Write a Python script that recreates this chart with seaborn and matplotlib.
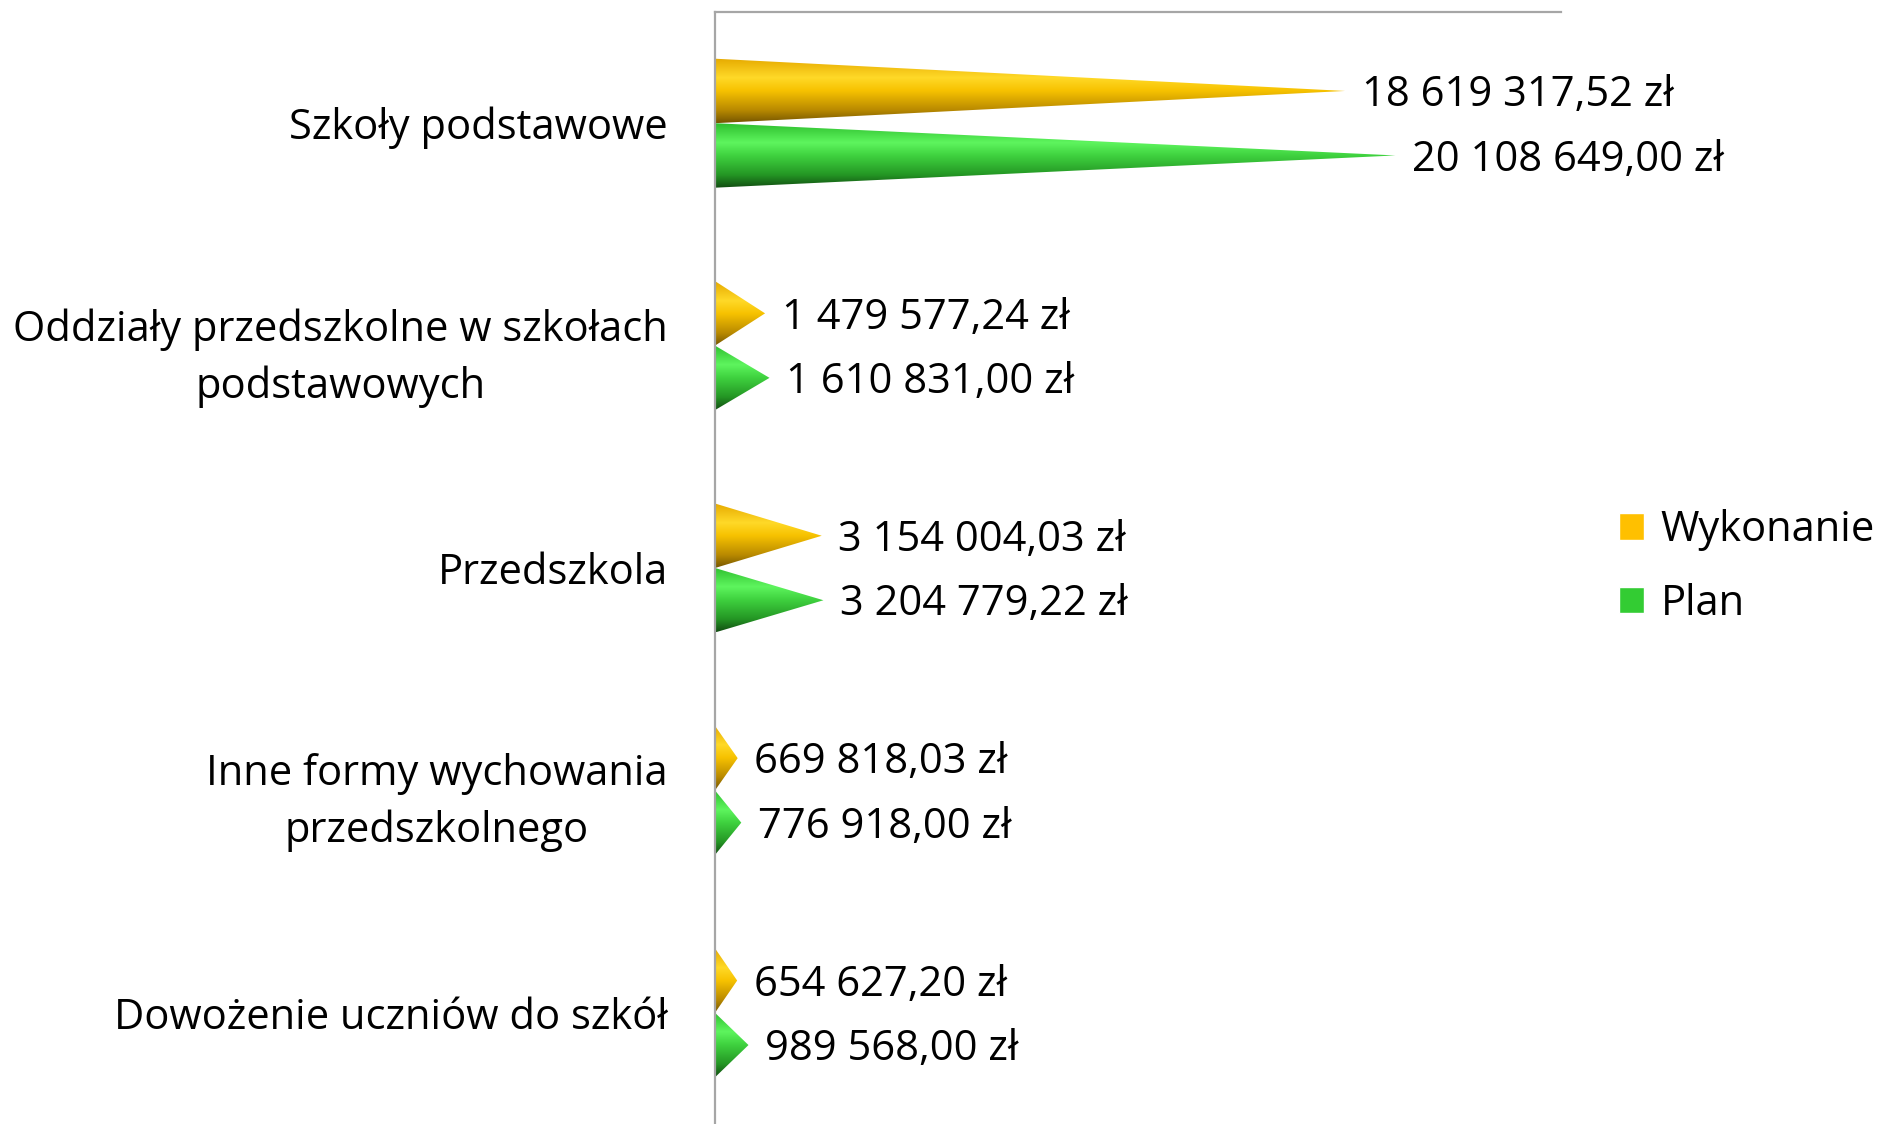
import matplotlib
matplotlib.use('Agg')
import matplotlib.pyplot as plt
import seaborn as sns
import numpy as np
import pandas as pd
from matplotlib.colors import LinearSegmentedColormap
from matplotlib.patches import Polygon

categories = ['Szkoły podstawowe',
              'Oddziały przedszkolne w szkołach\npodstawowych',
              'Przedszkola',
              'Inne formy wychowania\nprzedszkolnego',
              'Dowożenie uczniów do szkół']
wykonanie = [18619317.52, 1479577.24, 3154004.03, 669818.03, 654627.20]
plan = [20108649.00, 1610831.00, 3204779.22, 776918.00, 989568.00]
series = ['Wykonanie', 'Plan']
colors = ['#FFC000', '#33CC33']

df = pd.DataFrame({
    'kategoria': categories * 2,
    'kwota': wykonanie + plan,
    'seria': [series[0]] * len(categories) + [series[1]] * len(categories),
})

sns.set_theme(style='white')
plt.rcParams['font.family'] = ['Open Sans', 'DejaVu Sans']
plt.rcParams['text.color'] = 'black'
plt.rcParams['ytick.color'] = 'black'
fs = 30

fig = plt.figure(figsize=(18.83, 11.24), dpi=100)
ax = fig.add_axes([715 / 1883, 0.0, (1561 - 715) / 1883, 1 - 12 / 1124])

sns.barplot(data=df, y='kategoria', x='kwota', hue='seria', orient='h',
            palette=colors, saturation=1, width=0.58, ax=ax, errorbar=None)

# gradients for the cone shading (top -> bottom of each bar)
cone_maps = [
    LinearSegmentedColormap.from_list('y', [(0, '#e6aa00'), (0.3, '#ffd928'), (0.5, '#f7c200'),
                                            (0.8, '#b98a00'), (1, '#765600')]),
    LinearSegmentedColormap.from_list('g', [(0, '#2fbf2f'), (0.3, '#5ef55e'), (0.5, '#3fd23f'),
                                            (0.8, '#249624'), (1, '#124d12')]),
]
grad = np.linspace(0, 1, 200).reshape(-1, 1)

xmax = 25e6
for cont, cmap in zip(ax.containers, cone_maps):
    for bar in cont:
        bar.set_visible(False)
        w = bar.get_width()
        y0 = bar.get_y()
        h = bar.get_height()
        tri = Polygon([(0, y0), (0, y0 + h), (w, y0 + h / 2)], closed=True,
                      transform=ax.transData, facecolor='none', edgecolor='none')
        ax.add_patch(tri)
        im = ax.imshow(grad, cmap=cmap, aspect='auto', origin='upper',
                       extent=(0, w, y0 + h, y0), interpolation='bilinear', zorder=2)
        im.set_clip_path(tri)
        txt = f'{w:,.2f}'.replace(',', ' ').replace('.', ',') + ' zł'
        ax.annotate(txt, (w, y0 + h / 2), xytext=(12, -3), textcoords='offset points',
                    ha='left', va='center', fontsize=fs, color='black')

ax.set_xlim(0, xmax)
ax.set_ylim(len(categories) - 0.5, -0.5)
ax.set_xticks([])
ax.set_xlabel('')
ax.set_ylabel('')
ax.tick_params(axis='y', length=0, pad=34, labelsize=fs, labelcolor='black')
for lab in ax.get_yticklabels():
    lab.set_multialignment('center')
    lab.set_linespacing(1.45)

for s in ['right', 'bottom']:
    ax.spines[s].set_visible(False)
for s in ['left', 'top']:
    ax.spines[s].set_color('#a6a6a6')
    ax.spines[s].set_linewidth(1.6)

sns.move_legend(ax, 'center left', bbox_to_anchor=(1619 / 1883, 1 - 567 / 1124),
                bbox_transform=fig.transFigure, title=None, frameon=False,
                fontsize=fs, handlelength=0.6, handleheight=0.6,
                handletextpad=0.4, labelspacing=0.75, borderpad=0, borderaxespad=0)
for t in ax.get_legend().get_texts():
    t.set_color('black')

fig.savefig('out.png', dpi=100)
